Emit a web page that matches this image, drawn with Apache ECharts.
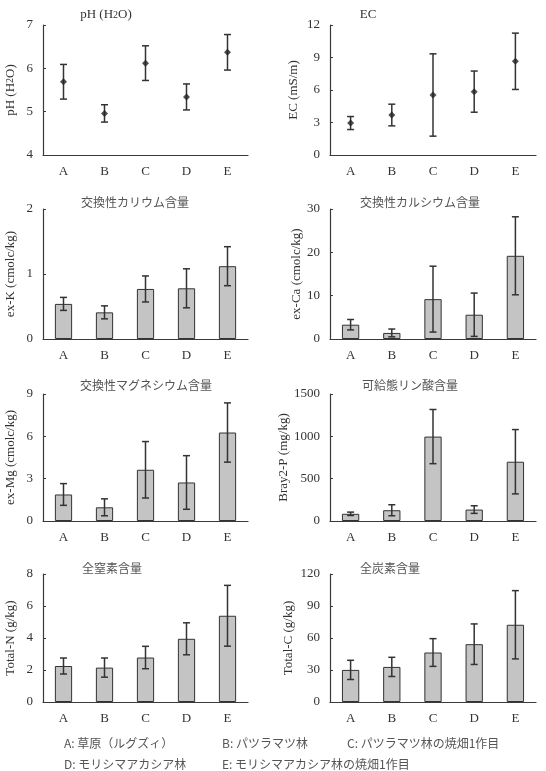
<!DOCTYPE html>
<html>
<head>
<meta charset="utf-8">
<script src="https://cdn.jsdelivr.net/npm/echarts@6/dist/echarts.min.js"></script>
<style>
  html, body { margin: 0; padding: 0; background: #fff; }
  #chart { width: 546px; height: 771px; }
</style>
</head>
<body>
<div id="chart"></div>
<script>
const categories = ["A", "B", "C", "D", "E"];

// means and +/- error
const phMean = [5.69, 4.96, 6.12, 5.34, 6.37];
const phErr = [0.40, 0.20, 0.40, 0.30, 0.41];
const ecMean = [2.95, 3.69, 5.54, 5.85, 8.65];
const ecErr = [0.6, 1.0, 3.8, 1.9, 2.6];
const kMean = [0.54, 0.41, 0.77, 0.78, 1.12];
const kErr = [0.10, 0.10, 0.20, 0.30, 0.30];
const caMean = [3.3, 1.4, 9.2, 5.6, 19.2];
const caErr = [1.2, 0.9, 7.6, 5.0, 9.0];
const mgMean = [1.88, 0.97, 3.63, 2.73, 6.27];
const mgErr = [0.77, 0.60, 2.00, 1.90, 2.10];
const pMean = [85, 127, 997, 135, 700];
const pErr = [20, 65, 320, 45, 380];
const nMean = [2.25, 2.15, 2.78, 3.95, 5.39];
const nErr = [0.50, 0.60, 0.70, 1.00, 1.90];
const cMean = [30.1, 32.9, 46.4, 54.2, 72.4];
const cErr = [9, 9, 13, 19, 32];

const legendRow1 = ["A: 草原（ルグズィ）", "B: パツラマツ林", "C: パツラマツ林の焼畑1作目"];
const legendRow2 = ["D: モリシマアカシア林", "E: モリシマアカシア林の焼畑1作目"];

const serif = "'Liberation Serif', 'DejaVu Serif', serif";
const jp = "'Noto Sans CJK JP', sans-serif";
const axisColor = "#3a3a3a";

// panel layout
const panels = [
  { title: "pH (H2O)", name: "pH (H2O)", mean: phMean, err: phErr, min: 4, max: 7, interval: 1, kind: "point", left: 43, top: 25, height: 130, tx: 106, ty: 15, gap: 26 },
  { title: "EC", name: "EC (mS/m)", mean: ecMean, err: ecErr, min: 0, max: 12, interval: 3, kind: "point", left: 330, top: 25, height: 130, tx: 368, ty: 15, gap: 30 },
  { title: "交換性カリウム含量", name: "ex-K (cmolc/kg)", mean: kMean, err: kErr, min: 0, max: 2, interval: 1, kind: "bar", left: 43, top: 209, height: 130, tx: 135, ty: 202, gap: 26 },
  { title: "交換性カルシウム含量", name: "ex-Ca (cmolc/kg)", mean: caMean, err: caErr, min: 0, max: 30, interval: 10, kind: "bar", left: 330, top: 209, height: 130, tx: 420, ty: 202, gap: 27 },
  { title: "交換性マグネシウム含量", name: "ex-Mg (cmolc/kg)", mean: mgMean, err: mgErr, min: 0, max: 9, interval: 3, kind: "bar", left: 43, top: 394, height: 127, tx: 146, ty: 385, gap: 26 },
  { title: "可給態リン酸含量", name: "Bray2-P (mg/kg)", mean: pMean, err: pErr, min: 0, max: 1500, interval: 500, kind: "bar", left: 330, top: 394, height: 127, tx: 410, ty: 385, gap: 38 },
  { title: "全窒素含量", name: "Total-N (g/kg)", mean: nMean, err: nErr, min: 0, max: 8, interval: 2, kind: "bar", left: 43, top: 574, height: 128, tx: 112, ty: 568, gap: 26 },
  { title: "全炭素含量", name: "Total-C (g/kg)", mean: cMean, err: cErr, min: 0, max: 120, interval: 30, kind: "bar", left: 330, top: 574, height: 128, tx: 390, ty: 568, gap: 35 }
];

const grids = [], xAxes = [], yAxes = [], series = [], graphics = [];

panels.forEach((p, i) => {
  grids.push({ left: p.left, top: p.top, width: p.left < 100 ? 205 : 206, height: p.height });

  xAxes.push({
    gridIndex: i,
    type: "category",
    data: categories,
    boundaryGap: true,
    axisLine: { lineStyle: { color: axisColor, width: 1.2 } },
    axisTick: { inside: true, length: 3, lineStyle: { color: axisColor } },
    axisLabel: { color: "#333", fontFamily: serif, fontSize: 13, margin: 10 }
  });

  const isPh = p.name === "pH (H2O)";
  yAxes.push({
    gridIndex: i,
    type: "value",
    min: p.min, max: p.max, interval: p.interval,
    name: isPh ? "{a|pH (H}{s|2}{a|O)}" : p.name,
    nameLocation: "middle",
    nameGap: p.gap,
    nameTextStyle: {
      color: "#333", fontFamily: serif, fontSize: 13,
      rich: { a: { fontFamily: serif, fontSize: 13, color: "#333" }, s: { fontFamily: serif, fontSize: 10, color: "#333" } }
    },
    axisLine: { show: true, lineStyle: { color: axisColor, width: 1.2 } },
    axisTick: { show: true, inside: true, length: 3, lineStyle: { color: axisColor } },
    axisLabel: { color: "#333", fontFamily: serif, fontSize: 13, margin: 10, formatter: (v) => String(v) },
    splitLine: { show: false }
  });

  if (p.kind === "bar") {
    series.push({
      type: "bar",
      xAxisIndex: i, yAxisIndex: i,
      data: p.mean,
      barWidth: "42%",
      itemStyle: { color: "#c4c4c4", borderColor: "#333", borderWidth: 1 },
      silent: true
    });
  } else {
    series.push({
      type: "scatter",
      xAxisIndex: i, yAxisIndex: i,
      data: p.mean,
      symbol: "diamond",
      symbolSize: 7,
      itemStyle: { color: "#222" },
      z: 5
    });
  }

  series.push({
    type: "custom",
    xAxisIndex: i, yAxisIndex: i,
    data: p.mean.map((m, k) => [k, m - p.err[k], m + p.err[k]]),
    renderItem: (params, api) => {
      const lo = api.coord([api.value(0), api.value(1)]);
      const hi = api.coord([api.value(0), api.value(2)]);
      const cap = 3.5;
      const st = { stroke: "#333", lineWidth: 1.5 };
      return {
        type: "group",
        children: [
          { type: "line", shape: { x1: hi[0], y1: hi[1], x2: lo[0], y2: lo[1] }, style: st },
          { type: "line", shape: { x1: hi[0] - cap, y1: hi[1], x2: hi[0] + cap, y2: hi[1] }, style: st },
          { type: "line", shape: { x1: lo[0] - cap, y1: lo[1], x2: lo[0] + cap, y2: lo[1] }, style: st }
        ]
      };
    },
    z: 4
  });

  graphics.push({
    type: "text",
    x: p.tx, y: p.ty,
    style: isPh ? {
      text: "{a|pH (H}{s|2}{a|O)}",
      textAlign: "center", textVerticalAlign: "middle",
      rich: { a: { fontFamily: serif, fontSize: 13, fill: "#333" }, s: { fontFamily: serif, fontSize: 10, fill: "#333" } }
    } : {
      text: p.title,
      textAlign: "center", textVerticalAlign: "middle",
      font: p.title === "EC" ? "13px " + serif : "12px " + jp,
      fill: p.title === "EC" ? "#333" : "#555"
    }
  });
});

const legendX1 = [64, 222, 347];
const legendX2 = [64, 222];
legendRow1.forEach((t, k) => graphics.push({
  type: "text", x: legendX1[k], y: 743,
  style: { text: t, font: "12px " + jp, fill: "#555", textVerticalAlign: "middle" }
}));
legendRow2.forEach((t, k) => graphics.push({
  type: "text", x: legendX2[k], y: 764,
  style: { text: t, font: "12px " + jp, fill: "#555", textVerticalAlign: "middle" }
}));

const chart = echarts.init(document.getElementById("chart"));
chart.setOption({
  animation: false,
  grid: grids,
  xAxis: xAxes,
  yAxis: yAxes,
  series: series,
  graphic: graphics
});
window.addEventListener("resize", () => chart.resize());
</script>
</body>
</html>
